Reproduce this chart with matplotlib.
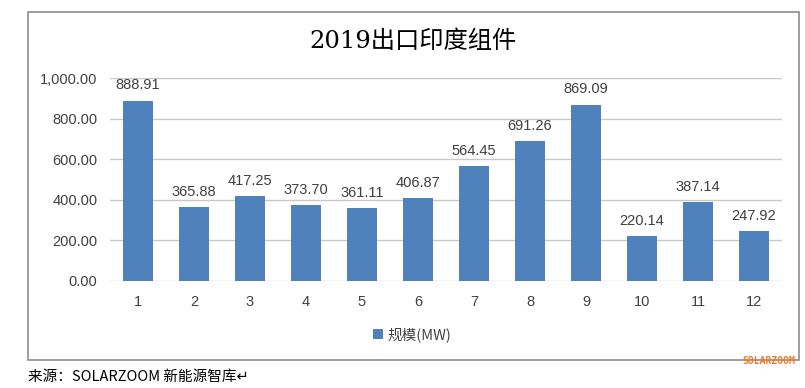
import matplotlib
matplotlib.use('Agg')
import matplotlib.pyplot as plt
from matplotlib.patches import Rectangle
from matplotlib.ticker import FuncFormatter

months = ['1', '2', '3', '4', '5', '6', '7', '8', '9', '10', '11', '12']
volume = [888.91, 365.88, 417.25, 373.70, 361.11, 406.87, 564.45, 691.26, 869.09, 220.14, 387.14, 247.92]
yticks = [0, 200, 400, 600, 800, 1000]

plt.rcParams['font.family'] = ['Noto Sans CJK SC', 'DejaVu Sans']
bar_color = '#4F81BD'
text_color = '#404040'

fig = plt.figure(figsize=(8.05, 3.88), dpi=100)

# outer chart frame
fig.patches.append(Rectangle((28 / 805, 1 - 360 / 388), 771 / 805, 348 / 388,
                             transform=fig.transFigure, fill=False,
                             edgecolor='#8c8c8c', linewidth=1.2))

ax = fig.add_axes([110 / 805, 1 - 281 / 388, 672 / 805, 203 / 388])
x = range(len(months))
bars = ax.bar(x, volume, width=0.55, color=bar_color, zorder=3, label='规模(MW)')
for xi, v in zip(x, volume):
    ax.text(xi, v + 40, f'{v:.2f}', ha='center', va='bottom', fontsize=10.5,
            color=text_color, family=['Liberation Sans', 'DejaVu Sans'])

ax.set_xlim(-0.5, len(months) - 0.5)
ax.set_ylim(0, 1000)
ax.set_yticks(yticks)
ax.yaxis.set_major_formatter(FuncFormatter(lambda v, p: f'{v:,.2f}'))
ax.set_xticks(list(x))
ax.set_xticklabels(months)
ax.grid(axis='y', color='#c8c8c8', linewidth=1, zorder=0)
for s in ax.spines.values():
    s.set_visible(False)
ax.tick_params(axis='x', length=0, labelsize=10.5, colors=text_color, pad=10)
ax.tick_params(axis='y', length=0, labelsize=10.5, colors=text_color, pad=9)
for lab in ax.get_yticklabels() + ax.get_xticklabels():
    lab.set_family(['Liberation Sans', 'DejaVu Sans'])

fig.text(413 / 805, 1 - 42 / 388, '2019出口印度组件', ha='center', va='center',
         fontsize=17.5, color='#000000', family=['DejaVu Serif', 'Noto Sans CJK SC'])

leg = fig.legend(handles=[bars], labels=['规模(MW)'], loc='center',
                 bbox_to_anchor=(412 / 805, 1 - 335 / 388), frameon=False,
                 fontsize=10.5, handlelength=0.7, handleheight=0.7, handletextpad=0.3)
for t in leg.get_texts():
    t.set_color(text_color)

fig.text(28 / 805, 1 - 377 / 388, '来源：SOLARZOOM 新能源智库↵', ha='left', va='center',
         fontsize=10.5, color='#000000', family=['Noto Sans CJK SC', 'DejaVu Sans'])
fig.text(795 / 805, 1 - 361 / 388, 'SOLARZOOM', ha='right', va='center',
         fontsize=7, color='#f07a2a', family='DejaVu Sans Mono', weight='bold')

fig.savefig('out.png', dpi=100)
